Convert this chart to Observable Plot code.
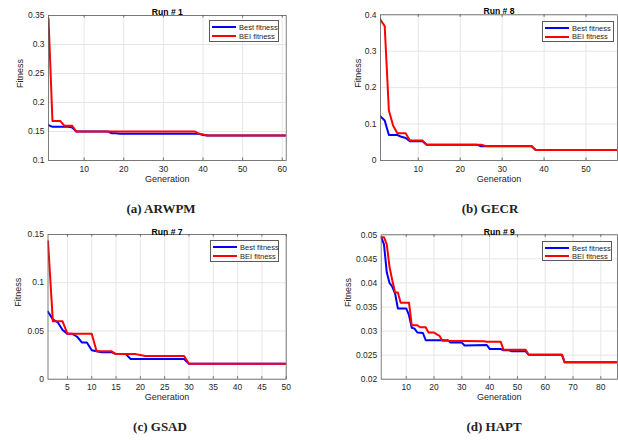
<!DOCTYPE html>
<html>
<head>
<meta charset="utf-8">
<script src="https://cdn.jsdelivr.net/npm/d3@7"></script>
<script src="https://cdn.jsdelivr.net/npm/@observablehq/plot@0.6"></script>
<style>
  html, body { margin: 0; padding: 0; background: #fff; }
  #root { position: relative; width: 618px; height: 440px; background: #fff; overflow: hidden; }
  .panel { position: absolute; }
  .legend { position: absolute; background: #fff; border: 1px solid #5a5a5a; box-sizing: border-box;
            font-family: "Liberation Sans", Arial, sans-serif; font-size: 7.5px; color: #262626; }
  .legend .row { position: absolute; left: 0; height: 9px; line-height: 9px; white-space: nowrap; }
  .legend .sw { position: absolute; left: 2px; top: 3.5px; width: 24px; height: 2px; }
  .legend .lb { position: absolute; left: 29px; top: 0; }
  .caption { position: absolute; font-family: "Liberation Serif", "DejaVu Serif", serif; font-weight: bold;
             font-size: 13px; color: #222; white-space: nowrap; transform: translate(-50%, -50%); }
</style>
</head>
<body>
<div id="root"></div>
<script>
// ---------- Data ----------
// (a) ARWPM, Run # 1
const aBestGen = [1, 2, 6, 7, 8, 16, 17, 18, 19, 39, 40, 41, 61];
const aBestVal = [0.161, 0.158, 0.158, 0.157, 0.15, 0.15, 0.147, 0.147, 0.146, 0.146, 0.144, 0.143, 0.143];
const aBeiGen  = [1, 2, 4, 5, 7, 8, 38, 39, 40, 41, 61];
const aBeiVal  = [0.345, 0.168, 0.168, 0.16, 0.16, 0.15, 0.15, 0.146, 0.145, 0.143, 0.143];
const aXTicks = [10, 20, 30, 40, 50, 60];
const aYTicks = [0.1, 0.15, 0.2, 0.25, 0.3, 0.35];

// (b) GECR, Run # 8
const bBestGen = [1, 2, 3, 5, 6, 7, 8, 11, 12, 24, 25, 37, 38, 58];
const bBestVal = [0.121, 0.11, 0.07, 0.07, 0.065, 0.062, 0.053, 0.053, 0.043, 0.043, 0.039, 0.039, 0.029, 0.029];
const bBeiGen  = [1, 2, 3, 4, 5, 7, 8, 11, 12, 25, 26, 37, 38, 58];
const bBeiVal  = [0.386, 0.369, 0.137, 0.096, 0.075, 0.075, 0.055, 0.055, 0.043, 0.043, 0.04, 0.04, 0.029, 0.029];
const bXTicks = [10, 20, 30, 40, 50];
const bYTicks = [0, 0.1, 0.2, 0.3, 0.4];

// (c) GSAD, Run # 7
const cBestGen = [1, 2, 3, 4, 5, 6, 7, 8, 9, 10, 11, 12, 14, 15, 17, 18, 29, 30, 50];
const cBestVal = [0.070, 0.062, 0.059, 0.051, 0.047, 0.047, 0.044, 0.038, 0.038, 0.030, 0.029, 0.028, 0.028, 0.026, 0.026, 0.021, 0.021, 0.016, 0.016];
const cBeiGen  = [1, 2, 4, 5, 10, 11, 14, 15, 19, 20, 21, 29, 30, 50];
const cBeiVal  = [0.143, 0.06, 0.06, 0.047, 0.047, 0.029, 0.029, 0.026, 0.026, 0.025, 0.024, 0.024, 0.016, 0.016];
const cXTicks = [5, 10, 15, 20, 25, 30, 35, 40, 45, 50];
const cYTicks = [0, 0.05, 0.1, 0.15];

// (d) HAPT, Run # 9
const dBestGen = [1, 2, 3, 4, 5, 6, 7, 10, 11, 12, 13, 14, 16, 17, 25, 26, 30, 31, 39, 40, 44, 45, 47, 48, 53, 54, 66, 67, 86];
const dBestVal = [0.0495, 0.048, 0.0422, 0.040, 0.0392, 0.0378, 0.0347, 0.0347, 0.0333, 0.0307, 0.0305, 0.0297, 0.0296, 0.0281, 0.0281, 0.0276, 0.0276, 0.027, 0.0271, 0.0263, 0.0263, 0.026, 0.026, 0.0258, 0.0258, 0.0251, 0.0251, 0.0235, 0.0235];
const dBeiGen  = [1, 2, 3, 4, 5, 6, 7, 8, 11, 12, 14, 15, 17, 18, 20, 21, 22, 23, 38, 39, 44, 45, 53, 54, 66, 67, 86];
const dBeiVal  = [0.0495, 0.0495, 0.048, 0.0433, 0.0405, 0.038, 0.038, 0.0359, 0.0359, 0.0312, 0.0312, 0.0308, 0.0308, 0.0297, 0.0297, 0.0293, 0.029, 0.028, 0.0279, 0.0278, 0.0278, 0.0261, 0.0261, 0.0251, 0.0251, 0.0235, 0.0235];
const dXTicks = [10, 20, 30, 40, 50, 60, 70, 80];
const dYTicks = [0.02, 0.025, 0.03, 0.035, 0.04, 0.045, 0.05];

const seriesNames = ["Best fitness", "BEI fitness"];
const seriesColors = ["#0000ff", "#ff0000"];

// ---------- Layout ----------
const panels = [
  {left: 0,   top: 0,   width: 309, height: 190, ml: 48, mr: 23.3, mt: 15, mb: 30,
   xDomain: [1, 61], yDomain: [0.1, 0.35], xTicks: aXTicks, yTicks: aYTicks,
   best: [aBestGen, aBestVal], bei: [aBeiGen, aBeiVal], title: "Run # 1",
   yLabelDx: -28, xLabelDy: 21, titleDy: -7,
   legend: {left: 209, top: 20, w: 70, h: 22}, caption: "(a) ARWPM", capX: 161, capY: 209},
  {left: 309, top: 0,   width: 309, height: 190, ml: 71, mr: 1, mt: 14.3, mb: 30,
   xDomain: [1, 57.5], yDomain: [0, 0.4], xTicks: bXTicks, yTicks: bYTicks,
   best: [bBestGen, bBestVal], bei: [bBeiGen, bBeiVal], title: "Run # 8",
   yLabelDx: -22, xLabelDy: 21, titleDy: -7,
   legend: {left: 542, top: 21, w: 72, h: 21}, caption: "(b) GECR", capX: 490, capY: 209},
  {left: 0,   top: 215, width: 309, height: 195, ml: 47.5, mr: 23.3, mt: 19, mb: 31.3,
   xDomain: [1, 50], yDomain: [0, 0.15], xTicks: cXTicks, yTicks: cYTicks,
   best: [cBestGen, cBestVal], bei: [cBeiGen, cBeiVal], title: "Run # 7",
   yLabelDx: -30, xLabelDy: 20.6, titleDy: -6,
   legend: {left: 210, top: 240, w: 69, h: 22}, caption: "(c) GSAD", capX: 160, capY: 427},
  {left: 309, top: 215, width: 309, height: 195, ml: 71.7, mr: 1, mt: 19.3, mb: 31.3,
   xDomain: [1, 86], yDomain: [0.02, 0.05], xTicks: dXTicks, yTicks: dYTicks,
   best: [dBestGen, dBestVal], bei: [dBeiGen, dBeiVal], title: "Run # 9",
   yLabelDx: -33, xLabelDy: 20.6, titleDy: -6,
   legend: {left: 542, top: 241, w: 70, h: 20}, caption: "(d) HAPT", capX: 494, capY: 427}
];

const fmt = d => String(+(+d).toFixed(4));
const toRows = ([g, v]) => g.map((x, i) => ({x, y: v[i]}));
const root = document.getElementById("root");

for (const p of panels) {
  const plotH = p.height - p.mt - p.mb;
  const chart = Plot.plot({
    width: p.width, height: p.height,
    marginLeft: p.ml, marginRight: p.mr, marginTop: p.mt, marginBottom: p.mb,
    style: {fontFamily: '"Liberation Sans", Arial, sans-serif', fontSize: "8.5px", color: "#262626", background: "transparent", overflow: "visible"},
    x: {domain: p.xDomain},
    y: {domain: p.yDomain},
    marks: [
      Plot.gridX(p.xTicks, {stroke: "#e6e6e6", strokeOpacity: 1}),
      Plot.gridY(p.yTicks, {stroke: "#e6e6e6", strokeOpacity: 1}),
      Plot.axisX(p.xTicks, {tickSize: 0, tickPadding: 5, label: null, tickFormat: fmt, fill: "#262626"}),
      Plot.axisY(p.yTicks, {tickSize: 0, tickPadding: 4, label: null, tickFormat: fmt, fill: "#262626"}),
      Plot.tickX(p.xTicks, {x: d => d, insetTop: plotH - 2.5, stroke: "#6e6e6e"}),
      Plot.tickX(p.xTicks, {x: d => d, insetBottom: plotH - 2.5, stroke: "#6e6e6e"}),
      Plot.line(toRows(p.best), {x: "x", y: "y", stroke: seriesColors[0], strokeWidth: 2, clip: true}),
      Plot.line(toRows(p.bei), {x: "x", y: "y", stroke: seriesColors[1], strokeWidth: 2, clip: true}),
      Plot.frame({stroke: "#5e5e5e", strokeWidth: 0.8}),
      Plot.text([p.title], {text: d => d, frameAnchor: "top", dy: p.titleDy, fontWeight: "bold", fontSize: 8.6, fill: "#000"}),
      Plot.text(["Fitness"], {text: d => d, frameAnchor: "left", dx: p.yLabelDx, rotate: -90, fontSize: 9, fill: "#262626"}),
      Plot.text(["Generation"], {text: d => d, frameAnchor: "bottom", dy: p.xLabelDy, fontSize: 9, fill: "#262626"})
    ]
  });
  const wrap = document.createElement("div");
  wrap.className = "panel";
  wrap.style.left = p.left + "px";
  wrap.style.top = p.top + "px";
  wrap.appendChild(chart);
  root.appendChild(wrap);

  // legend
  const lg = document.createElement("div");
  lg.className = "legend";
  lg.style.left = p.legend.left + "px";
  lg.style.top = p.legend.top + "px";
  lg.style.width = p.legend.w + "px";
  lg.style.height = p.legend.h + "px";
  const rowTops = [1.5, p.legend.h / 2 - 0.5];
  seriesNames.forEach((name, i) => {
    const row = document.createElement("div");
    row.className = "row";
    row.style.top = rowTops[i] + "px";
    const sw = document.createElement("div");
    sw.className = "sw";
    sw.style.background = seriesColors[i];
    const lb = document.createElement("div");
    lb.className = "lb";
    lb.textContent = name;
    row.appendChild(sw);
    row.appendChild(lb);
    lg.appendChild(row);
  });
  root.appendChild(lg);

  // caption
  const cap = document.createElement("div");
  cap.className = "caption";
  cap.style.left = p.capX + "px";
  cap.style.top = p.capY + "px";
  cap.textContent = p.caption;
  root.appendChild(cap);
}
</script>
</body>
</html>
